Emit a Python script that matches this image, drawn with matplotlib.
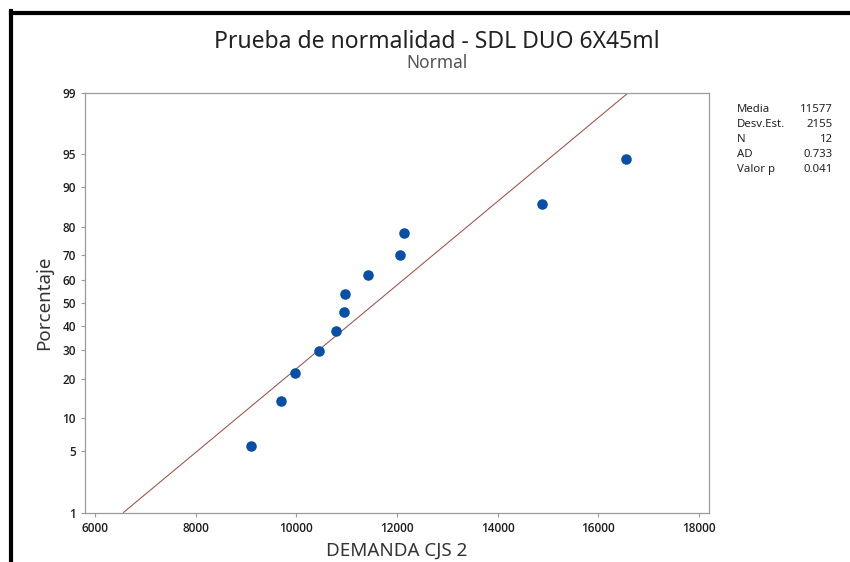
import matplotlib
matplotlib.use("Agg")
import matplotlib.pyplot as plt
from matplotlib.lines import Line2D
from statistics import NormalDist

# ---- data ----
demanda = [9100, 9700, 9970, 10450, 10790, 10940, 10970, 11420, 12060, 12130, 14880, 16550]
porcentaje = [5.6, 13.7, 21.8, 29.8, 37.9, 46.0, 54.0, 62.1, 70.2, 78.2, 86.3, 94.4]
media = 11577
desv = 2155
stat_names = ["Media", "Desv.Est.", "N", "AD", "Valor p"]
stat_values = ["11577", "2155", "12", "0.733", "0.041"]
y_ticks = [1, 5, 10, 20, 30, 40, 50, 60, 70, 80, 90, 95, 99]
x_ticks = [6000, 8000, 10000, 12000, 14000, 16000, 18000]

nd = NormalDist()
def z(p):
    return nd.inv_cdf(p / 100.0)

plt.rcParams['font.family'] = ['Noto Sans', 'DejaVu Sans']

fig = plt.figure(figsize=(8.5, 5.62), dpi=100)
W, H = 850, 562
ax = fig.add_axes([85 / W, 1 - 512.5 / H, (709 - 85) / W, (512.5 - 93) / H])

# fitted line
zl = [z(1), z(99)]
ax.plot([media + desv * v for v in zl], zl, color='#9E4E4A', lw=0.75, zorder=2)
# points
ax.plot(demanda, [z(p) for p in porcentaje], 'o', color='#0A4FA6',
        markersize=7.6, markeredgewidth=0, zorder=3)

tick_font = dict(family=['Open Sans', 'Noto Sans', 'DejaVu Sans'], weight='semibold',
                 size=8.5, color='#1E1E1E')
ax.set_xlim(5800, 18200)
ax.set_ylim(z(1), z(99))
ax.set_xticks(x_ticks)
ax.set_xticklabels([str(t) for t in x_ticks], fontdict=tick_font)
ax.set_yticks([z(p) for p in y_ticks])
ax.set_yticklabels([str(p) for p in y_ticks], fontdict=tick_font)
for s in ax.spines.values():
    s.set_color('#9A9A9A')
    s.set_linewidth(0.9)
ax.tick_params(axis='both', colors='#9A9A9A', length=3, width=0.8,
               labelcolor='#1E1E1E')
ax.set_xlabel('DEMANDA CJS 2', fontsize=13.5, color='#333333', labelpad=5)
ax.set_ylabel('Porcentaje', fontsize=13.5, color='#333333', labelpad=7)

fig.text(437 / W, 1 - 42 / H, 'Prueba de normalidad - SDL DUO 6X45ml',
         ha='center', va='center', fontsize=16.5, color='#222222')
fig.text(437 / W, 1 - 63 / H, 'Normal', ha='center', va='center',
         fontsize=12.5, color='#555555')

for i, (n, v) in enumerate(zip(stat_names, stat_values)):
    yy = 1 - (110 + i * 14.8) / H
    fig.text(737 / W, yy, n, ha='left', va='center', fontsize=8.2, color='#222222')
    fig.text(833 / W, yy, v, ha='right', va='center', fontsize=8.2, color='#222222')

# black frame (top & left)
fig.add_artist(Line2D([11 / W, 11 / W], [0, 1 - 11 / H], transform=fig.transFigure,
                      color='black', lw=3.0, solid_capstyle='projecting'))
fig.add_artist(Line2D([11 / W, 1], [1 - 13 / H, 1 - 13 / H], transform=fig.transFigure,
                      color='black', lw=3.0, solid_capstyle='projecting'))

fig.savefig('out.png', dpi=100, facecolor='white')
